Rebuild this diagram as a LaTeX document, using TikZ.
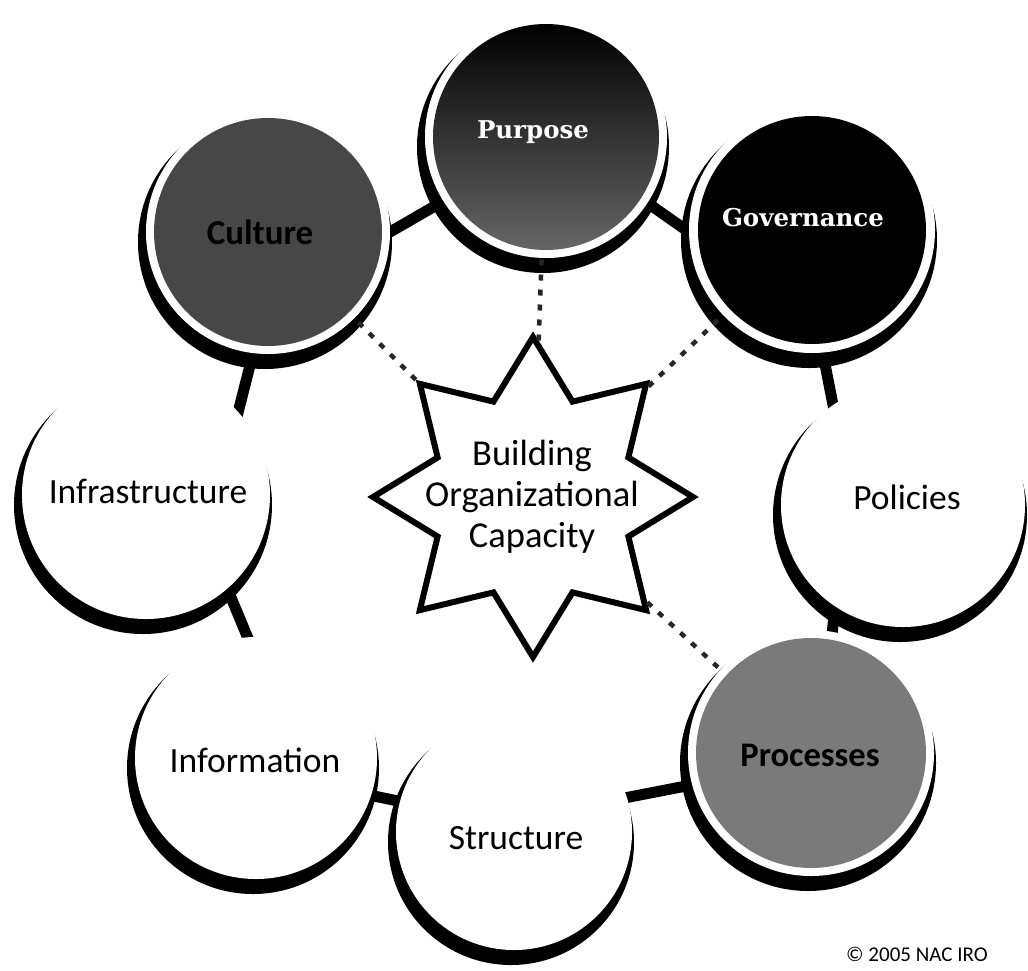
\documentclass[tikz,border=0pt]{standalone}
\usepackage{fontspec}
\setmainfont{Carlito}
\newfontfamily\slabfont{DejaVu Serif}
\usetikzlibrary{shapes.geometric}
\pgfdeclarelayer{background}
\pgfsetlayers{background,main}

\begin{document}
\begin{tikzpicture}[x=1pt,y=-1pt,
  plain/.style={circle, fill=white, draw=none, inner sep=0pt, outer sep=0pt},
  lbl/.style={font=\fontsize{35.5}{40}\selectfont, text=black, inner sep=0pt},
  boldlbl/.style={font=\fontsize{35}{40}\selectfont\bfseries, text=black, inner sep=0pt},
  slablbl/.style={font=\fontsize{24.5}{28}\selectfont\slabfont\bfseries, text=white, inner sep=0pt},
  link/.style={line width=11pt, shorten <=-14pt, shorten >=-14pt},
  dashlink/.style={line width=4.5pt, dash pattern=on 6pt off 9pt, black!85},
  hubstar/.style={star, star points=8, star point ratio=1.55, draw, line width=6pt,
    fill=white, inner sep=0pt}
]
\useasboundingbox (0,0) rectangle (1028,970);
\begin{pgfonlayer}{background}
  \fill[white] (0,0) rectangle (1028,970);
\end{pgfonlayer}

% crescent shadows below each circle
\foreach \cx/\cy/\r in {546/137/121, 268/232/122, 812/230/123, 903/505/122,
                        811/753/123, 514/832/118, 256/758/121, 146/495/124}
  \fill[black] (\cx-3,\cy+10) circle (\r+5);

% the eight circles (white faces)
\node[plain, minimum size=2*121] (pur) at (546,137) {};
\node[plain, minimum size=2*122] (cul) at (268,232) {};
\node[plain, minimum size=2*123] (gov) at (812,230) {};
\node[plain, minimum size=2*122] (pol) at (903,505) {};
\node[plain, minimum size=2*123] (proc) at (811,753) {};
\node[plain, minimum size=2*118] (str) at (514,832) {};
\node[plain, minimum size=2*121] (info) at (256,758) {};
\node[plain, minimum size=2*124] (infra) at (146,495) {};

% tinted discs inside a white rim
\shade[top color=black, middle color=black, bottom color=black!60] (pur.center) circle (113);
\fill[black!72] (cul.center) circle (114);
\fill[black] (gov.center) circle (114);
\fill[black!52] (proc.center) circle (115);

% labels
\node[slablbl] (pur-t) at (533,132) {Purpose};
\node[slablbl] (gov-t) at (803,218) {Governance};
\node[boldlbl] (cul-t) at (260,232) {Culture};
\node[boldlbl, font=\fontsize{34.5}{40}\selectfont\bfseries] (proc-t) at (810,755) {Processes};
\node[lbl] (pol-t) at (907,497) {Policies};
\node[lbl] (str-t) at (516,838) {Structure};
\node[lbl] (info-t) at (255,760) {Information};
\node[lbl] (infra-t) at (148,491) {Infrastructure};

% central star
\node[hubstar, minimum size=320pt] (hub) at (533,497) {};
\node[font=\fontsize{36.5}{41}\selectfont, align=center, inner sep=0pt] (hub-t)
  at (532,497) {Building\\Organizational\\Capacity};

% dashed ties from the star
\draw[dashlink] (hub) -- (cul);
\draw[dashlink] (hub) -- (pur);
\draw[dashlink] (hub) -- (gov);
\draw[dashlink] (hub) -- (proc);

% ring of connectors
\begin{pgfonlayer}{background}
  \draw[link] (cul.0) -- (pur.212);
  \draw[link] (pur.327) -- (gov.181);
  \draw[link] (gov.275) -- (pol.125);
  \draw[link] (pol.236) -- (proc.80);
  \draw[link] (proc.195) -- (str.17);
  \draw[link] (str.165) -- (info.342);
  \draw[link] (info.94) -- (infra.311);
  \draw[link] (infra.42) -- (cul.263);
\end{pgfonlayer}

\node[anchor=base west, font=\fontsize{21}{25}\selectfont, inner sep=0pt] (copy)
  at (846,961) {© 2005 NAC IRO};
\end{tikzpicture}
\end{document}
